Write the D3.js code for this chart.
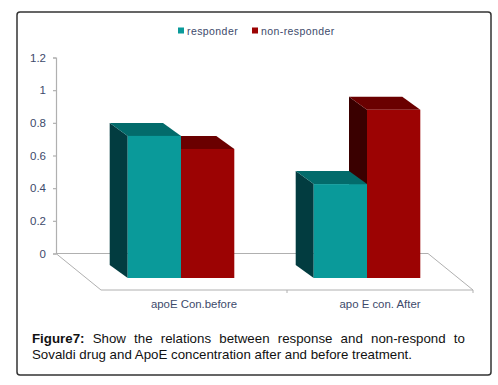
<!DOCTYPE html>
<html>
<head>
<meta charset="utf-8">
<script src="https://cdn.jsdelivr.net/npm/d3@7"></script>
<style>
  html, body { margin: 0; padding: 0; background: #fff; }
  svg { display: block; }
  text { font-family: "Liberation Sans", Arial, sans-serif; }
</style>
</head>
<body>
<svg id="chart" width="498" height="385"></svg>
<script>
// values
const categories = ["apoE Con.before", "apo E con. After"];
const seriesNames = ["responder", "non-responder"];
const responder = [0.87, 0.575];
const nonResponder = [0.79, 1.03];
const yTicks = [0, 0.2, 0.4, 0.6, 0.8, 1, 1.2];
const tickLabels = ["0", "0.2", "0.4", "0.6", "0.8", "1", "1.2"];

const colors = {
	responder: { front: "#0a9a9a", top: "#036b6b", side: "#023c40" },
	"non-responder": { front: "#9c0303", top: "#6a0000", side: "#3a0000" }
};
const textColor = "#3d4a6b";
const axisColor = "#b0b0b0";

const svg = d3.select("#chart");

// frame round the figure
svg.append("rect")
	.attr("x", 17).attr("y", 12)
	.attr("width", 474).attr("height", 363)
	.attr("rx", 3)
	.attr("fill", "#fff")
	.attr("stroke", "#333")
	.attr("stroke-width", 1.5);

// Scales
const y = d3.scaleLinear().domain([0, 1.2]).range([253.5, 57.5]);
const xFloor = d3.scaleBand().domain(categories).range([101, 473]);
const xBars = d3.scaleBand().domain(categories).range([88, 460]);
const xSeries = d3.scaleBand().domain(seriesNames)
	.range([0, xBars.bandwidth()])
	.paddingInner(0).paddingOuter(0.745);

// floor and wall
const floorDx = 45, floorDy = 36.5;
const wallLeft = 56, wallRight = 428;

svg.append("path")
	.attr("d", `M${wallLeft},${y(0)}L${wallRight},${y(0)}L${wallRight + floorDx},${y(0) + floorDy}L${wallLeft + floorDx},${y(0) + floorDy}Z`)
	.attr("fill", "none")
	.attr("stroke", axisColor)
	.attr("stroke-width", 1);

// ticks under the floor
[xFloor(categories[1]), wallRight + floorDx].forEach(function(tx) {
	svg.append("line")
		.attr("x1", tx).attr("x2", tx)
		.attr("y1", y(0) + floorDy).attr("y2", y(0) + floorDy + 3)
		.attr("stroke", axisColor);
});

// Y axis
const yAxis = d3.axisLeft(y)
	.tickValues(yTicks)
	.tickSize(3)
	.tickPadding(7)
	.tickFormat((d, i) => tickLabels[i]);

const yG = svg.append("g")
	.attr("transform", `translate(${wallLeft},0)`)
	.call(yAxis);
yG.selectAll("path, line").attr("stroke", axisColor).attr("stroke-width", 1.2);
yG.selectAll("text").attr("fill", textColor).attr("font-size", 11.5).attr("font-family", '"Liberation Sans", Arial, sans-serif');

// Bars
const depthX = 18, depthY = 13;
const frontDrop = 24.5;

// non-responder first: the responder bar's front and top sit over its side
const rows = [];
categories.forEach(function(cat, c) {
	rows.push({ name: seriesNames[1], cat: cat, value: nonResponder[c] });
	rows.push({ name: seriesNames[0], cat: cat, value: responder[c] });
});

const bars = svg.selectAll(".bar")
	.data(rows)
	.enter()
	.append("g")
	.attr("class", "bar");

function corners(d) {
	const x0 = xBars(d.cat) + xSeries(d.name);
	const x1 = x0 + xSeries.bandwidth();
	return { x0: x0, x1: x1, top: y(d.value) + frontDrop, bottom: y(0) + frontDrop };
}

bars.append("path")
	.attr("fill", function(d) { return colors[d.name].side; })
	.attr("d", function(d) {
		const c = corners(d);
		return `M${c.x0},${c.top}L${c.x0 - depthX},${c.top - depthY}L${c.x0 - depthX},${c.bottom - depthY}L${c.x0},${c.bottom}Z`;
	});

bars.append("path")
	.attr("fill", function(d) { return colors[d.name].top; })
	.attr("d", function(d) {
		const c = corners(d);
		return `M${c.x0},${c.top}L${c.x0 - depthX},${c.top - depthY}L${c.x1 - depthX},${c.top - depthY}L${c.x1},${c.top}Z`;
	});

bars.append("rect")
	.attr("fill", function(d) { return colors[d.name].front; })
	.attr("x", function(d) { return corners(d).x0; })
	.attr("y", function(d) { return corners(d).top; })
	.attr("width", xSeries.bandwidth())
	.attr("height", function(d) { const c = corners(d); return c.bottom - c.top; });

// Category labels
svg.selectAll(".catLabel")
	.data(categories)
	.enter()
	.append("text")
	.attr("class", "catLabel")
	.attr("x", function(d) { return xFloor(d) + xFloor.bandwidth() / 2; })
	.attr("y", 308)
	.attr("text-anchor", "middle")
	.attr("font-size", 11.4)
	.attr("fill", textColor)
	.text(function(d) { return d; });

// Legend
const legendX = d3.scaleOrdinal().domain(seriesNames).range([178, 252]);

const legend = svg.selectAll(".legendItem")
	.data(seriesNames)
	.enter()
	.append("g")
	.attr("class", "legendItem")
	.attr("transform", function(d) { return `translate(${legendX(d)},27.5)`; });

legend.append("rect")
	.attr("width", 6).attr("height", 6)
	.attr("fill", function(d) { return colors[d].front; });

legend.append("text")
	.attr("x", 9).attr("y", 7.5)
	.attr("font-size", 10.5)
	.attr("letter-spacing", 0.42)
	.attr("fill", textColor)
	.text(function(d) { return d; });

// Caption
const line1 = svg.append("text")
	.attr("x", 32).attr("y", 343)
	.attr("font-size", 13.3)
	.attr("fill", "#111")
	.attr("word-spacing", 4.5);
line1.append("tspan").attr("font-weight", "bold").text("Figure7:");
line1.append("tspan").text(" Show the relations between response and non-respond to");

svg.append("text")
	.attr("x", 32).attr("y", 359)
	.attr("font-size", 13.3)
	.attr("fill", "#111")
	.text("Sovaldi drug and ApoE concentration after and before treatment.");
</script>
</body>
</html>
